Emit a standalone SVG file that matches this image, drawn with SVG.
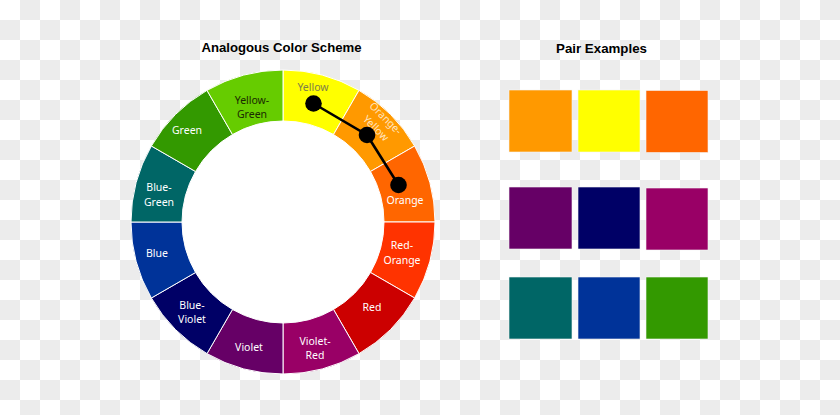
<svg xmlns="http://www.w3.org/2000/svg" width="840" height="415" viewBox="0 0 840 415">
<defs>
<pattern id="checker" width="40" height="40" patternUnits="userSpaceOnUse">
<rect width="40" height="40" fill="#ffffff"/>
<rect x="20" y="0" width="20" height="20" fill="#ececec"/>
<rect x="0" y="20" width="20" height="20" fill="#ececec"/>
</pattern>
</defs>
<style>
.seg{stroke:#ffffff;stroke-width:1}
.lbl{font-family:"Noto Sans","Open Sans",sans-serif;font-size:10.5px;text-anchor:middle;fill:#ffffff}
.title{font-family:"Liberation Sans",Arial,sans-serif;font-weight:bold;font-size:13px;fill:#000000}
.dot{fill:#000000}
.conn{stroke:#000000;stroke-width:2.6;fill:none}
.sw{stroke:#f3f3f3;stroke-width:0.6}
</style>
<rect width="840" height="415" fill="url(#checker)"/>
<text class="title" x="201.5" y="52" textLength="160" lengthAdjust="spacingAndGlyphs">Analogous Color Scheme</text>
<text class="title" x="556" y="53" textLength="91" lengthAdjust="spacingAndGlyphs">Pair Examples</text>
<g id="wheel">
<circle cx="283" cy="222" r="101" fill="#ffffff"/>
<g id="seg-yellow"><path class="seg" fill="#ffff00" d="M283,70 A152,152 0 0 1 359,90.36 L333.5,134.53 A101,101 0 0 0 283,121 Z"/><text class="lbl" x="313" y="90.5" style="fill:#7d7d4a">Yellow</text></g>
<g id="seg-orange-yellow"><path class="seg" fill="#ff9900" d="M359,90.36 A152,152 0 0 1 414.64,146 L370.47,171.5 A101,101 0 0 0 333.5,134.53 Z"/><text class="lbl" style="fill:#ffe3bd" transform="translate(381,123) rotate(45)"><tspan x="0" y="-3">Orange-</tspan><tspan x="0" y="11">Yellow</tspan></text></g>
<g id="seg-orange"><path class="seg" fill="#ff6600" d="M414.64,146 A152,152 0 0 1 435,222 L384,222 A101,101 0 0 0 370.47,171.5 Z"/><text class="lbl" x="405" y="204">Orange</text></g>
<g id="seg-red-orange"><path class="seg" fill="#ff3300" d="M435,222 A152,152 0 0 1 414.64,298 L370.47,272.5 A101,101 0 0 0 384,222 Z"/><text class="lbl"><tspan x="402" y="249">Red-</tspan><tspan x="402" y="264">Orange</tspan></text></g>
<g id="seg-red"><path class="seg" fill="#cc0000" d="M414.64,298 A152,152 0 0 1 359,353.64 L333.5,309.47 A101,101 0 0 0 370.47,272.5 Z"/><text class="lbl" x="372" y="311">Red</text></g>
<g id="seg-violet-red"><path class="seg" fill="#990066" d="M359,353.64 A152,152 0 0 1 283,374 L283,323 A101,101 0 0 0 333.5,309.47 Z"/><text class="lbl"><tspan x="315" y="345">Violet-</tspan><tspan x="315" y="359">Red</tspan></text></g>
<g id="seg-violet"><path class="seg" fill="#660066" d="M283,374 A152,152 0 0 1 207,353.64 L232.5,309.47 A101,101 0 0 0 283,323 Z"/><text class="lbl" x="249" y="350.5">Violet</text></g>
<g id="seg-blue-violet"><path class="seg" fill="#000066" d="M207,353.64 A152,152 0 0 1 151.36,298 L195.53,272.5 A101,101 0 0 0 232.5,309.47 Z"/><text class="lbl"><tspan x="192" y="309">Blue-</tspan><tspan x="192" y="323">Violet</tspan></text></g>
<g id="seg-blue"><path class="seg" fill="#003399" d="M151.36,298 A152,152 0 0 1 131,222 L182,222 A101,101 0 0 0 195.53,272.5 Z"/><text class="lbl" x="157" y="256.5">Blue</text></g>
<g id="seg-blue-green"><path class="seg" fill="#006666" d="M131,222 A152,152 0 0 1 151.36,146 L195.53,171.5 A101,101 0 0 0 182,222 Z"/><text class="lbl"><tspan x="159" y="191">Blue-</tspan><tspan x="159" y="206">Green</tspan></text></g>
<g id="seg-green"><path class="seg" fill="#339900" d="M151.36,146 A152,152 0 0 1 207,90.36 L232.5,134.53 A101,101 0 0 0 195.53,171.5 Z"/><text class="lbl" x="187" y="134">Green</text></g>
<g id="seg-yellow-green"><path class="seg" fill="#66cc00" d="M207,90.36 A152,152 0 0 1 283,70 L283,121 A101,101 0 0 0 232.5,134.53 Z"/><text class="lbl" style="fill:#1a2a00"><tspan x="252" y="104">Yellow-</tspan><tspan x="252" y="117.5">Green</tspan></text></g>
</g>
<g id="connectors">
<polyline class="conn" points="313.5,103.5 367,135 398.5,185"/>
</g>
<g id="dot-yellow"><circle class="dot" cx="313.5" cy="103.5" r="8.3"/></g>
<g id="dot-orange-yellow"><circle class="dot" cx="367" cy="135" r="8.3"/></g>
<g id="dot-orange"><circle class="dot" cx="398.5" cy="185" r="8.3"/></g>
<g id="pair-1">
<rect class="sw" x="509" y="90" width="63" height="62" fill="#ff9900"/>
<rect class="sw" x="578" y="90" width="62" height="62" fill="#ffff00"/>
<rect class="sw" x="646" y="90.5" width="62" height="62" fill="#ff6600"/>
</g>
<g id="pair-2">
<rect class="sw" x="509" y="187" width="63" height="62" fill="#660066"/>
<rect class="sw" x="578" y="187" width="62" height="62" fill="#000066"/>
<rect class="sw" x="646" y="188" width="62" height="62" fill="#990066"/>
</g>
<g id="pair-3">
<rect class="sw" x="509" y="277" width="63" height="62" fill="#006666"/>
<rect class="sw" x="578" y="277" width="62" height="62" fill="#003399"/>
<rect class="sw" x="646" y="277" width="62" height="62" fill="#339900"/>
</g>
</svg>
